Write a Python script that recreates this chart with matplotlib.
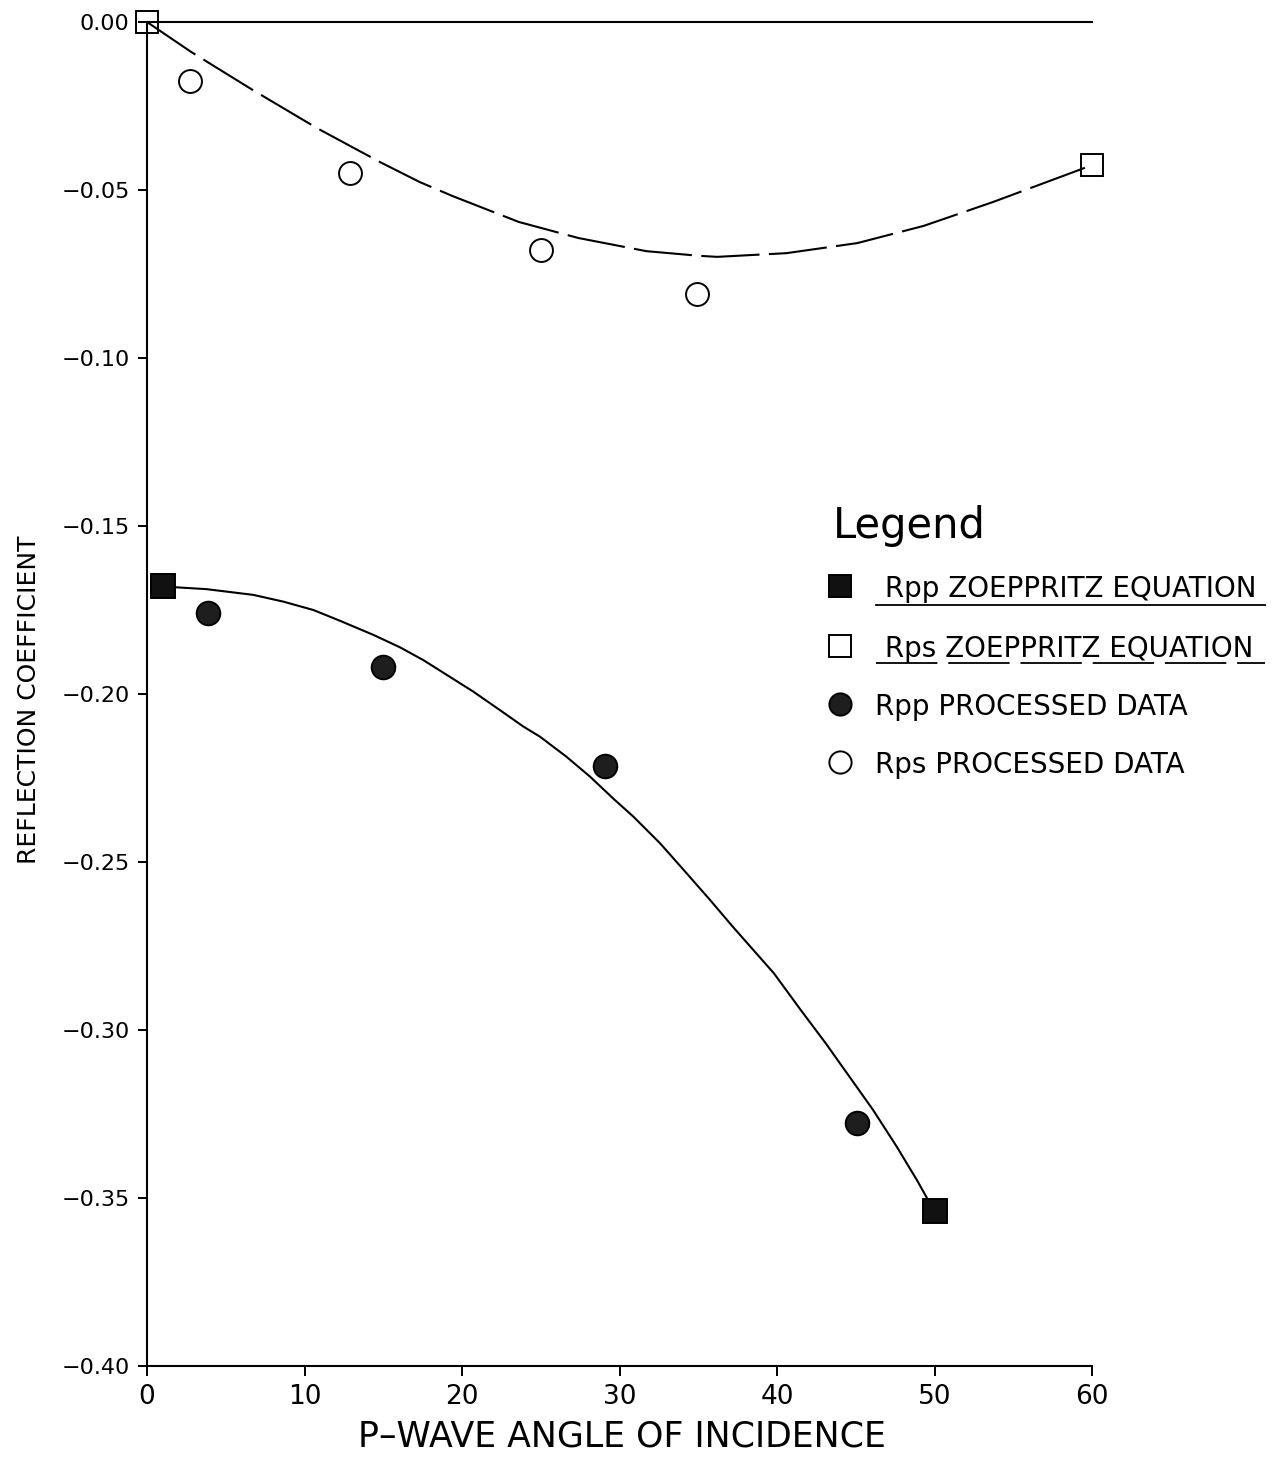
import matplotlib
matplotlib.use("Agg")
import matplotlib.pyplot as plt
from matplotlib.lines import Line2D

plt.rcParams['font.family'] = ['DejaVu Sans']

# ---------------- data ----------------
rpp_curve_angle = [1.0, 3.79, 6.75, 8.65, 10.56, 12.25, 14.37, 16.06, 17.54, 19.03, 20.72, 22.41,
                   23.9, 24.95, 26.64, 28.13, 29.6, 30.88, 32.57, 34.27, 35.75, 37.2, 38.5, 39.8,
                   41.5, 43.1, 44.6, 46.1, 47.6, 48.9, 50.0]
rpp_curve_value = [-0.168, -0.1688, -0.1705, -0.1725, -0.175, -0.1782, -0.1824, -0.1861, -0.1899,
                   -0.1943, -0.1993, -0.2048, -0.2097, -0.2127, -0.2187, -0.2246, -0.2311, -0.2365,
                   -0.2444, -0.2534, -0.2613, -0.2693, -0.2762, -0.2831, -0.294, -0.304, -0.3139,
                   -0.3238, -0.3347, -0.3448, -0.354]

rps_curve_angle = [0.0, 2.8, 6.7, 10.8, 14.8, 17.3, 19.4, 23.6, 27.4, 31.7, 35.1, 36.2, 40.6, 45.1,
                   49.3, 53.7, 58.0, 60.0]
rps_curve_value = [0.0, -0.0089, -0.0202, -0.0316, -0.0417, -0.0476, -0.0518, -0.0595, -0.0643,
                   -0.0682, -0.0696, -0.0699, -0.0688, -0.0658, -0.0607, -0.0536, -0.0461, -0.0426]

rpp_zoe_angle = [1.0, 50.0]
rpp_zoe_value = [-0.168, -0.354]
rps_zoe_angle = [0.0, 60.0]
rps_zoe_value = [0.0, -0.0426]

rpp_data_angle = [3.9, 15.0, 29.1, 45.1]
rpp_data_value = [-0.176, -0.192, -0.2214, -0.3277]
rps_data_angle = [2.7, 12.9, 25.0, 34.9]
rps_data_value = [-0.0176, -0.045, -0.0679, -0.081]

xticks = [0, 10, 20, 30, 40, 50, 60]
xtick_labels = ['0', '10', '20', '30', '40', '50', '60']
yticks = [-0.40, -0.35, -0.30, -0.25, -0.20, -0.15, -0.10, -0.05, 0.00]
ytick_labels = ['\u22120.40', '\u22120.35', '\u22120.30', '\u22120.25', '\u22120.20',
                '\u22120.15', '\u22120.10', '\u22120.05', '0.00']

legend_title = 'Legend'
legend_labels = [' Rpp ZOEPPRITZ EQUATION', ' Rps ZOEPPRITZ EQUATION',
                 'Rpp PROCESSED DATA', 'Rps PROCESSED DATA']
xlabel = 'P\u2013WAVE ANGLE OF INCIDENCE'
ylabel = 'REFLECTION COEFFICIENT'

# ---------------- figure ----------------
W, H = 1280, 1458
fig = plt.figure(figsize=(W / 100, H / 100), dpi=100)
ax = fig.add_axes([147 / W, 1 - 1366 / H, (1092 - 147) / W, (1366 - 22) / H])

lw = 1.5
ax.plot(rpp_curve_angle, rpp_curve_value, color='black', lw=lw, zorder=2)
ax.plot(rps_curve_angle, rps_curve_value, color='black', lw=lw, dashes=(28, 4.5), zorder=2)

ax.plot(rpp_zoe_angle, rpp_zoe_value, ls='none', marker='s', ms=17, mfc='#111111', mec='black',
        mew=1.4, zorder=4, clip_on=False)
ax.plot(rps_zoe_angle, rps_zoe_value, ls='none', marker='s', ms=16, mfc='none', mec='black',
        mew=1.4, zorder=4, clip_on=False)
ax.plot(rpp_data_angle, rpp_data_value, ls='none', marker='o', ms=17, mfc='#1e1e1e', mec='black',
        mew=1.4, zorder=4)
ax.plot(rps_data_angle, rps_data_value, ls='none', marker='o', ms=16.5, mfc='none', mec='black',
        mew=1.4, zorder=4)

ax.set_xlim(0, 60)
ax.set_ylim(-0.40, 0.0)
ax.set_xticks(xticks)
ax.set_xticklabels(xtick_labels, fontsize=19)
ax.set_yticks(yticks)
ax.set_yticklabels(ytick_labels, fontsize=16)
ax.tick_params(axis='x', length=7, width=1.4, pad=6, direction='out')
ax.tick_params(axis='y', length=6.5, width=1.4, pad=6, direction='out')

for side in ['left', 'bottom', 'top']:
    ax.spines[side].set_linewidth(1.5)
ax.spines['right'].set_visible(False)

ax.set_xlabel(xlabel, fontsize=25)
ax.xaxis.set_label_coords(0.503, -0.040)
ax.xaxis.label.set_va('top')
ax.set_ylabel(ylabel, fontsize=18)
ax.yaxis.set_label_coords(-0.112, 0.4955)

# ---------------- manual legend ----------------
def fx(px):
    return px / W

def fy(py):
    return 1 - py / H

fig.text(fx(833), fy(538), legend_title, fontsize=30, ha='left', va='baseline')

entry_y = [586, 646, 704, 762]
marker_specs = [
    dict(marker='s', ms=16, mfc='#111111', mec='black'),
    dict(marker='s', ms=16, mfc='none', mec='black'),
    dict(marker='o', ms=16, mfc='#1e1e1e', mec='black'),
    dict(marker='o', ms=16, mfc='none', mec='black'),
]
text_x = [876, 876, 875, 875]
for y, spec, lab, tx in zip(entry_y, marker_specs, legend_labels, text_x):
    fig.add_artist(Line2D([fx(840)], [fy(y)], ls='none', mew=1.4, transform=fig.transFigure, **spec))
    fig.text(fx(tx), fy(y + 11), lab, fontsize=20, ha='left', va='baseline')

# underlines of the first two entries
fig.add_artist(Line2D([fx(876), fx(1265)], [fy(605), fy(605)], color='black', lw=1.3,
                      transform=fig.transFigure))
fig.add_artist(Line2D([fx(876), fx(1265)], [fy(663), fy(663)], color='black', lw=1.3,
                      dashes=(34, 6), transform=fig.transFigure))

fig.savefig('out.png', dpi=100)
